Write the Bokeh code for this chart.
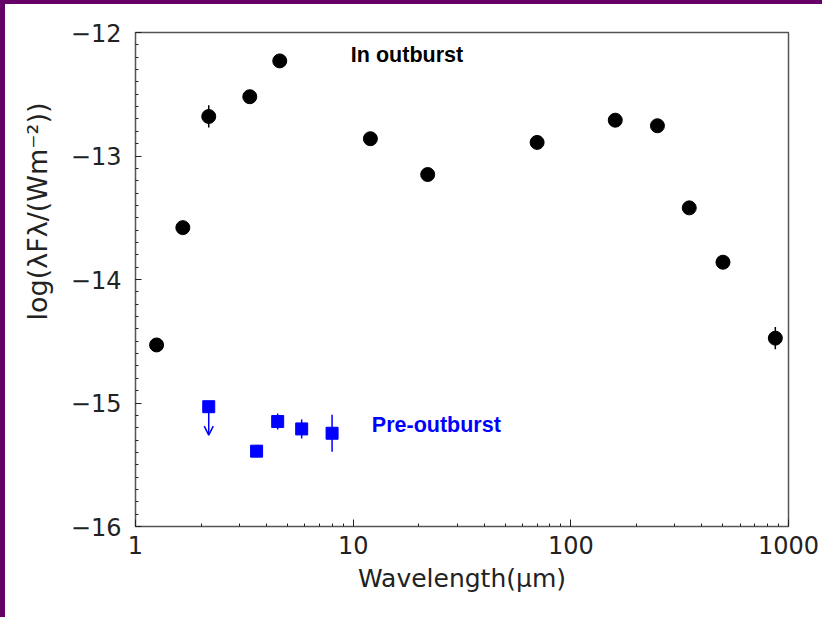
import numpy as np
from bokeh.plotting import figure
from bokeh.models import (ColumnDataSource, FixedTicker, BasicTickFormatter, Label, Title,
                          Arrow, OpenHead)
from bokeh.embed import file_html
from bokeh.resources import INLINE

# ---- data ----
out_wl = [1.25, 1.65, 2.17, 3.35, 4.6, 12.0, 22.0, 70.0, 160.0, 250.0, 350.0, 500.0, 870.0]
out_logf = [-14.53, -13.58, -12.68, -12.52, -12.23, -12.86, -13.15, -12.89, -12.71, -12.755, -13.42, -13.86, -14.475]
out_err = [0.03, 0.03, 0.09, 0.03, 0.03, 0.02, 0.02, 0.02, 0.02, 0.02, 0.03, 0.03, 0.09]

pre_wl = [2.17, 3.6, 4.5, 5.8, 8.0]
pre_logf = [-15.03, -15.39, -15.15, -15.21, -15.245]
pre_err = [0.0, 0.05, 0.065, 0.077, 0.15]
pre_uplim = [True, False, False, False, False]
uplim_len = 0.23

x_major = [1, 10, 100, 1000]
y_major = [-16, -15, -14, -13, -12]
y_labels = ["\u221216", "\u221215", "\u221214", "\u221213", "\u221212"]

FONT = "DejaVu Sans"

W, H = 822, 617
p = figure(width=W, height=H, x_axis_type="log", x_range=(1, 1000), y_range=(-16, -12),
           output_backend="svg", toolbar_location=None,
           min_border_left=129, min_border_right=39, min_border_top=28, min_border_bottom=95)
p.styles = {"border-left": "5px solid #660066", "border-top": "4px solid #660066"}
p.background_fill_color = "white"
p.border_fill_color = "white"
p.grid.visible = False
p.outline_line_color = "#555555"
p.outline_line_width = 1.5

# x axis
xminor = [m * d for d in (1, 10, 100) for m in range(2, 10)]
p.xaxis.ticker = FixedTicker(ticks=x_major, minor_ticks=xminor)
p.xaxis.formatter = BasicTickFormatter(use_scientific=False)
p.xaxis.axis_line_color = None
p.xaxis.major_tick_in = 7
p.xaxis.major_tick_out = 0
p.xaxis.minor_tick_in = 3
p.xaxis.minor_tick_out = 0
p.xaxis.major_tick_line_color = "#222222"
p.xaxis.minor_tick_line_color = "#222222"
p.xaxis.major_label_text_font = FONT
p.xaxis.major_label_text_font_size = "24px"
p.xaxis.major_label_text_color = "#222222"
p.xaxis.major_label_standoff = 9
p.xaxis.axis_label = "Wavelength(\u03bcm)"
p.xaxis.axis_label_text_font = FONT
p.xaxis.axis_label_text_font_style = "normal"
p.xaxis.axis_label_text_font_size = "25px"
p.xaxis.axis_label_text_color = "#222222"
p.xaxis.axis_label_standoff = 7

# y axis
yminor = [round(-16 + 0.1 * i, 1) for i in range(41)]
p.yaxis.ticker = FixedTicker(ticks=y_major, minor_ticks=yminor)
p.yaxis.major_label_overrides = {v: s for v, s in zip(y_major, y_labels)}
p.yaxis.axis_line_color = None
p.yaxis.major_tick_in = 6
p.yaxis.major_tick_out = 0
p.yaxis.minor_tick_in = 3
p.yaxis.minor_tick_out = 0
p.yaxis.major_tick_line_color = "#222222"
p.yaxis.minor_tick_line_color = "#222222"
p.yaxis.major_label_text_font = FONT
p.yaxis.major_label_text_font_size = "24px"
p.yaxis.major_label_text_color = "#222222"
p.yaxis.major_label_standoff = 14

# rotated y label, placed off-centre (towards the top) as in the reference
ytitle = Title(text="log(\u03bbF\u03bb/(Wm\u207b\u00b2))", align="right", offset=70, standoff=29,
               text_font=FONT, text_font_size="27px", text_font_style="normal", text_color="#222222")
p.add_layout(ytitle, "left")

# in outburst
src_out = ColumnDataSource(dict(x=out_wl, y=out_logf,
                                lo=[a - e for a, e in zip(out_logf, out_err)],
                                hi=[a + e for a, e in zip(out_logf, out_err)]))
p.segment(x0="x", y0="lo", x1="x", y1="hi", source=src_out, line_color="black", line_width=1.5)
p.scatter(x="x", y="y", source=src_out, marker="circle", size=14, fill_color="black", line_color="black")

# pre-outburst
det = [i for i, u in enumerate(pre_uplim) if not u]
lim = [i for i, u in enumerate(pre_uplim) if u]
src_pre = ColumnDataSource(dict(x=[pre_wl[i] for i in det], y=[pre_logf[i] for i in det],
                                lo=[pre_logf[i] - pre_err[i] for i in det],
                                hi=[pre_logf[i] + pre_err[i] for i in det]))
p.segment(x0="x", y0="lo", x1="x", y1="hi", source=src_pre, line_color="blue", line_width=1.5)
for i in lim:
    p.add_layout(Arrow(x_start=pre_wl[i], y_start=pre_logf[i], x_end=pre_wl[i], y_end=pre_logf[i] - uplim_len,
                       line_color="blue", line_width=1.5,
                       end=OpenHead(size=9, line_color="blue", line_width=1.5)))
p.scatter(x=pre_wl, y=pre_logf, marker="square", size=12, fill_color="blue", line_color="blue")

# text annotations
p.add_layout(Label(x=9.76, y=-12.186, text="In outburst", text_font="Liberation Sans",
                   text_font_style="bold", text_font_size="21.5px", text_color="black",
                   text_align="left", text_baseline="middle"))
p.add_layout(Label(x=12.18, y=-15.18, text="Pre-outburst", text_font="Liberation Sans",
                   text_font_style="bold", text_font_size="21.5px", text_color="blue",
                   text_align="left", text_baseline="middle"))

open("out.html", "w").write(file_html(p, INLINE))
